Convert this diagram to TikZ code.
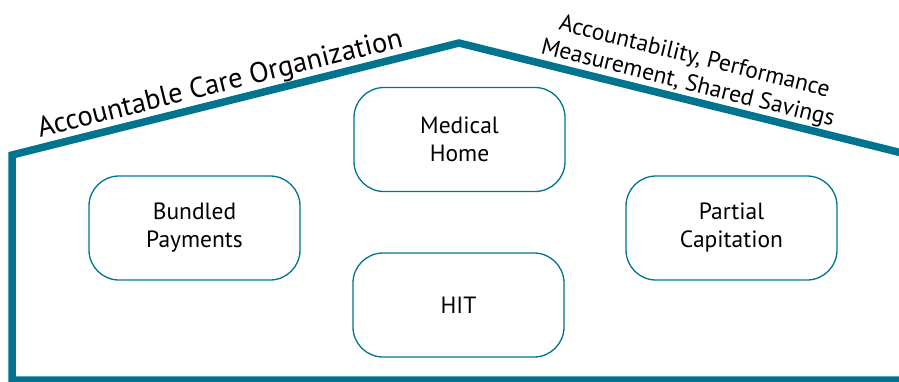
\documentclass[tikz,border=0pt]{standalone}
\usepackage{fontspec}
\setmainfont{PT Sans}
\definecolor{teal1}{RGB}{0,116,143}
\begin{document}
\begin{tikzpicture}[x=1pt,y=-1pt,
  box/.style={draw=teal1,line width=1.3pt,rounded corners=30pt,minimum width=211pt,minimum height=104pt,inner sep=0pt,align=center,font=\fontsize{23.5}{28}\selectfont},
  roof/.style={draw=teal1,line width=7.5pt,line join=miter}]
\useasboundingbox (0,0) rectangle (899,381);
\clip (0,0) rectangle (899,381);
\coordinate (br) at (910,380);
\coordinate (bl) at (12,380);
\coordinate (wl) at (12,155);
\coordinate (pk) at (459,43);
\coordinate (rr) at (910,155);
\draw[roof] (br) -- (bl) -- (wl) -- (pk) -- (rr);
\node[box] (bp) at (194.5,228) {Bundled\\Payments};
\node[box] (mh) at (459.5,139.5) {Medical\\Home};
\node[box] (hit) at (458.5,305) {HIT};
\node[box] (pc) at (731.5,228) {Partial\\Capitation};
\node[anchor=base,rotate=14,font=\fontsize{28.5}{32}\selectfont] (aco) at (222,92) {Accountable Care Organization};
\node[rotate=-14,align=center,font=\fontsize{23.5}{27}\selectfont] (acc) at (691,71) {Accountability, Performance\\Measurement, Shared Savings};
\end{tikzpicture}
\end{document}
